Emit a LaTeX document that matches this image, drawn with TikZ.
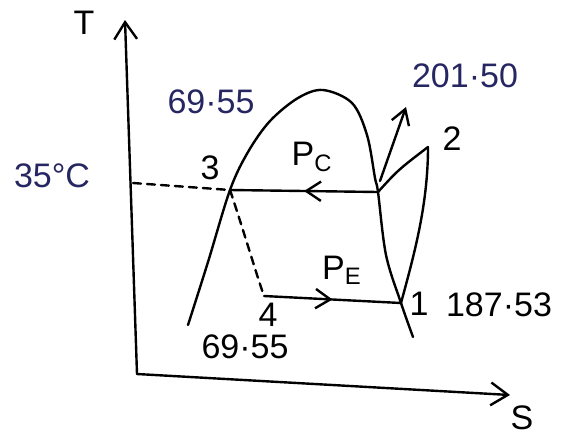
\documentclass[tikz,border=0pt]{standalone}
\usepackage{fontspec}
\setmainfont{Liberation Sans}
\usetikzlibrary{arrows.meta,decorations.markings}

\definecolor{penblue}{RGB}{38,38,98}

\begin{document}
\begin{tikzpicture}[
  x=0.5pt, y=-0.5pt,
  font=\fontsize{17}{19}\selectfont,
  line/.style={line width=1.2pt, line cap=round, line join=round},
  axis/.style={line, -{Straight Barb[length=3mm, width=4mm]}},
  arr/.style={line, -{Straight Barb[length=2.6mm, width=3.2mm]}},
  midarr/.style={line, postaction={decorate, decoration={markings,
      mark=at position 0.5 with {\arrow{Straight Barb[length=2.6mm, width=3.4mm]}}}}},
  guide/.style={line, dashed, dash pattern=on 4pt off 3pt},
  lab/.style={inner sep=1pt},
  val/.style={lab, text=penblue}
]
\useasboundingbox (0,0) rectangle (572,434);

% ---------------- axes ----------------
\coordinate (o)   at (137,374);
\coordinate (tT)  at (125,20);
\coordinate (sE)  at (510,395);
\draw[axis] (o) -- (tT);
\draw[axis] (o) -- (sE);
\node[lab] (tlab) at (84,23) {T};
\node[lab] (slab) at (522,418) {S};

% ---------------- cycle points ----------------
\coordinate (p1)  at (401,303);
\coordinate (p2)  at (428,147);
\coordinate (p3)  at (230,190);
\coordinate (p4)  at (264,296);
\coordinate (sv)  at (378,192);
\coordinate (dl)  at (188,325);
\coordinate (top) at (323,90);
\coordinate (dr)  at (413,337);

% saturation dome
\draw[line] plot[smooth, tension=0.55] coordinates {(dl) (208,262) (p3) (248,152)
  (270,121) (298,98) (top) (352,103) (367,135) (375,178) (sv) (386,255) (p1) (dr)};

\draw[midarr] (sv) -- (p3);
\draw[midarr] (p4) -- (p1);
\draw[line] (sv) .. controls (398,170) .. (p2);
\draw[line] (p2) .. controls (428,205) and (414,255) .. (p1);
\draw[guide] (p3) .. controls (245,235) and (255,270) .. (p4);

\coordinate (a35) at (133,183);
\draw[guide] (a35) -- (p3);

\coordinate (qs) at (380,181);
\coordinate (qe) at (406,107);
\draw[arr] (qs) -- (qe);

% ---------------- labels ----------------
\node[val] (t35)   at (52,176)  {35°C};
\node[val] (h3)    at (211,102) {69·55};
\node[val] (h2)    at (465,76)  {201·50};
\node[lab] (n3)    at (210,168) {3};
\node[lab] (n2)    at (452,139) {2};
\node[lab] (n4)    at (268,315) {4};
\node[lab] (n1)    at (419,304) {1};
\node[lab] (h4)    at (245,347) {69·55};
\node[lab] (h1)    at (499,305) {187·53};
\node[lab] (pc)    at (312,157) {P\textsubscript{C}};
\node[lab] (pe)    at (342,270) {P\textsubscript{E}};

\end{tikzpicture}
\end{document}
